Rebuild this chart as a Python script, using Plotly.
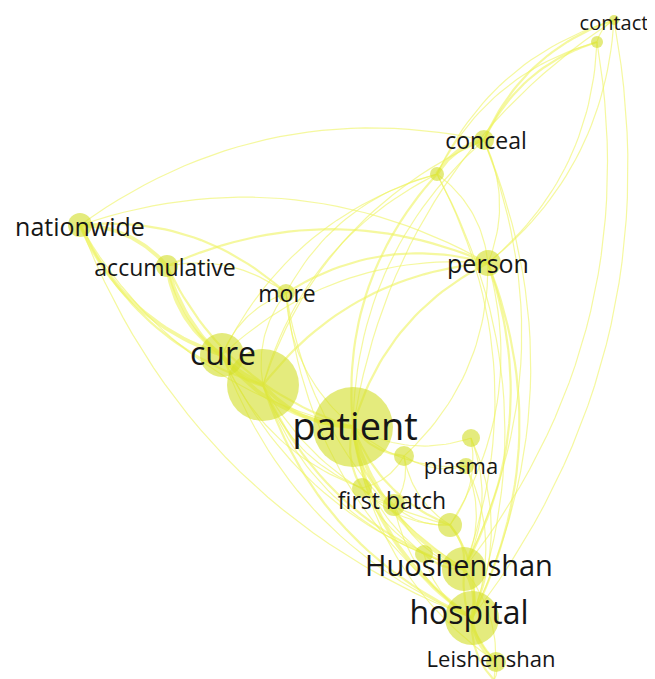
import numpy as np
import plotly.graph_objects as go

# ---- node data ----
labels = ["contact", "", "conceal", "", "nationwide", "accumulative", "more", "person",
          "cure", "", "patient", "", "", "plasma", "first batch", "", "", "",
          "Huoshenshan", "hospital", "Leishenshan", ""]
node_x = [614, 597, 484, 437, 80, 167, 286, 488, 222, 263, 353, 471, 404, 466, 362, 394, 450, 424, 464, 472, 496, 494]
node_y = [20, 42, 140, 174, 225, 266, 293, 263, 355, 385, 427, 438, 456, 466, 488, 505, 525, 554, 569, 618, 662, 680]
node_r = [5, 6, 10, 7, 12, 11, 9, 13, 22, 36, 40, 9, 10, 8, 10, 11, 12, 9, 22, 27, 10, 9]
label_x = [614, 0, 486, 0, 80, 165, 287, 488, 223, 0, 355, 0, 0, 461, 392, 0, 0, 0, 459, 469, 491, 0]
label_y = [25, 0, 143, 0, 230, 270, 296, 267, 357, 0, 430, 0, 0, 468, 503, 0, 0, 0, 569, 616, 661, 0]
label_size = [20, 0, 23, 0, 25, 23, 23, 25, 32, 0, 38, 0, 0, 22, 23, 0, 0, 0, 29, 32, 22, 0]

# ---- links (source, target, weight) ----
links = [
    (0, 2, 2), (0, 3, 1), (0, 7, 1), (0, 19, 1), (0, 10, 1), (1, 2, 2), (1, 3, 1), (1, 7, 1),
    (1, 18, 1), (0, 1, 1),
    (2, 3, 3), (2, 7, 1), (4, 2, 1), (2, 10, 1), (2, 19, 1), (2, 18, 1), (2, 9, 1),
    (3, 7, 1), (3, 10, 2), (3, 8, 1), (3, 6, 1), (3, 19, 1), (3, 18, 1), (3, 9, 1),
    (4, 5, 3), (4, 8, 3), (4, 9, 2), (4, 10, 1), (4, 6, 2), (4, 7, 1), (4, 19, 1),
    (5, 8, 3), (5, 9, 3), (5, 10, 2), (5, 6, 1), (7, 5, 2),
    (6, 7, 2), (6, 10, 1), (6, 8, 1), (6, 19, 1), (6, 9, 1), (6, 18, 1),
    (7, 10, 2), (7, 8, 1), (7, 9, 2), (7, 19, 2), (7, 18, 2), (7, 16, 1), (7, 12, 1),
    (8, 9, 3), (8, 10, 3), (8, 19, 1), (8, 18, 1), (8, 14, 1),
    (9, 10, 3), (9, 19, 2), (9, 18, 2), (9, 14, 1), (9, 16, 1), (9, 17, 1),
    (10, 11, 1), (10, 12, 2), (10, 13, 1), (10, 14, 2), (10, 15, 2), (10, 16, 2),
    (10, 17, 1), (10, 18, 3), (10, 19, 3), (10, 20, 1),
    (12, 13, 1), (12, 14, 1), (12, 15, 1), (12, 16, 1), (11, 19, 1), (11, 18, 1),
    (14, 15, 1), (14, 16, 1), (14, 18, 1), (15, 16, 1), (15, 18, 1), (15, 19, 1),
    (16, 18, 2), (16, 19, 2), (17, 18, 2), (17, 19, 1),
    (18, 19, 3), (18, 20, 2), (19, 20, 3), (19, 21, 2), (18, 21, 1), (20, 21, 1),
    (13, 18, 1), (13, 19, 1), (11, 16, 1),
]

cx, cy = np.mean(node_x), np.mean(node_y)


def curve(i, j, bend=0.22, n=30):
    x0, y0, x1, y1 = node_x[i], node_y[i], node_x[j], node_y[j]
    dx, dy = x1 - x0, y1 - y0
    L = np.hypot(dx, dy)
    px, py = dy / L, -dx / L
    mx, my = (x0 + x1) / 2, (y0 + y1) / 2
    # bend away from network centre
    if (mx + px - cx) ** 2 + (my + py - cy) ** 2 < (mx - cx) ** 2 + (my - cy) ** 2:
        px, py = -px, -py
    qx, qy = mx + px * bend * L, my + py * bend * L
    t = np.linspace(0, 1, n)
    xs = (1 - t) ** 2 * x0 + 2 * (1 - t) * t * qx + t ** 2 * x1
    ys = (1 - t) ** 2 * y0 + 2 * (1 - t) * t * qy + t ** 2 * y1
    return xs, ys


fig = go.Figure()
widths = {1: 1.2, 2: 2.2, 3: 3.8}
for w in (1, 2, 3):
    ex, ey = [], []
    for (i, j, wt) in links:
        if wt != w:
            continue
        xs, ys = curve(i, j)
        ex += list(xs) + [None]
        ey += list(ys) + [None]
    fig.add_trace(go.Scatter(x=ex, y=ey, mode="lines",
                             line=dict(color="rgba(238,244,95,0.6)", width=widths[w]),
                             hoverinfo="skip"))

fig.add_trace(go.Scatter(x=node_x, y=node_y, mode="markers",
                         marker=dict(size=[2 * r for r in node_r], color="rgba(210,222,40,0.86)",
                                     line=dict(width=0)),
                         hoverinfo="skip"))

lab_idx = [k for k, s in enumerate(labels) if s]
for k in lab_idx:
    fig.add_trace(go.Scatter(x=[label_x[k]], y=[label_y[k]], mode="text", text=[labels[k]],
                             textposition="middle center",
                             textfont=dict(family="Open Sans", size=label_size[k], color="#161616"),
                             hoverinfo="skip", cliponaxis=False))

# page body has an 8px default margin: the figure is sized and ranged so that
# data units equal page pixels
fig.update_layout(width=647, height=671, margin=dict(l=0, r=0, t=0, b=0),
                  paper_bgcolor="white", plot_bgcolor="white", showlegend=False,
                  xaxis=dict(range=[8, 655], visible=False),
                  yaxis=dict(range=[679, 8], visible=False))
fig.write_html("out.html")
